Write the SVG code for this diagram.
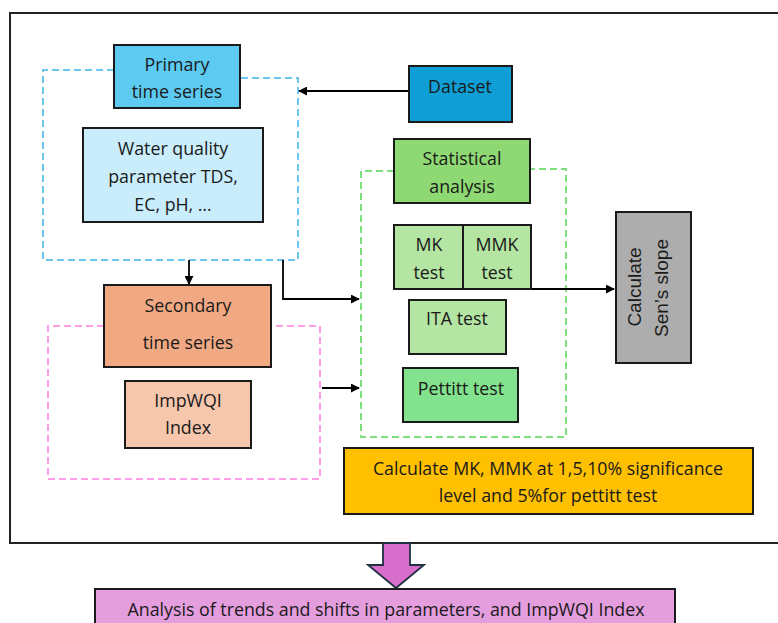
<svg xmlns="http://www.w3.org/2000/svg" width="778" height="623" viewBox="0 0 778 623">
<defs>
<style>
.box{stroke:#1a1a1a;stroke-width:2}
.t{font-family:"Open Sans","Liberation Sans",sans-serif;font-size:17.8px;fill:#1a1a1a;text-anchor:middle;dominant-baseline:central}
.ta{font-family:"Liberation Sans",Arial,sans-serif;font-size:19px;fill:#1a1a1a;text-anchor:middle;dominant-baseline:central}
.dash{fill:none;stroke-width:2;stroke-dasharray:7 4}
.conn{fill:none;stroke:#000;stroke-width:1.8;marker-end:url(#ah)}
</style>
<marker id="ah" viewBox="0 0 10 10" refX="9" refY="5" markerWidth="9" markerHeight="9" markerUnits="userSpaceOnUse" orient="auto">
<path d="M0,0 L10,5 L0,10 z" fill="#000"/>
</marker>
</defs>
<rect width="778" height="623" fill="#fff"/>
<rect id="frame" x="10" y="13" width="772" height="530" fill="none" stroke="#222" stroke-width="2"/>

<g id="groups">
<path class="dash" stroke="#6cc6ee" d="M114,70 H43 V260 H298 V78 H240"/>
<path class="dash" stroke="#7ddf7d" d="M394,171 H361 V437 H566 V169 H530"/>
<path class="dash" stroke="#ff9de8" d="M104,326 H48 V479 H320 V326 H271"/>
</g>

<g id="connectors">
<path class="conn" d="M409,91 H299"/>
<path class="conn" d="M189,260 V284"/>
<path class="conn" d="M283,260 V299 H359"/>
<path class="conn" d="M322,388 H359"/>
<path class="conn" d="M487,289 H614"/>
</g>

<g id="primary">
<rect class="box" x="114" y="45" width="126" height="63" fill="#5dcaf2"/>
<text class="t" x="177" y="64">Primary</text>
<text class="t" x="177" y="91">time series</text>
</g>
<g id="waterquality">
<rect class="box" x="83" y="128" width="180" height="94" fill="#caedfb"/>
<text class="t" x="173" y="148">Water quality</text>
<text class="t" x="173" y="176">parameter TDS,</text>
<text class="t" x="173" y="204">EC, pH, …</text>
</g>
<g id="dataset">
<rect class="box" x="409" y="66" width="103" height="56" fill="#0f9ed5"/>
<text class="t" x="460" y="86">Dataset</text>
</g>
<g id="statistical">
<rect class="box" x="394" y="139" width="136" height="64" fill="#8ed973"/>
<text class="t" x="462" y="158">Statistical</text>
<text class="t" x="462" y="186">analysis</text>
</g>
<g id="mk">
<rect class="box" x="394" y="225" width="69" height="64" fill="#b4e5a2"/>
<text class="t" x="429" y="244">MK</text>
<text class="t" x="429" y="272">test</text>
</g>
<g id="mmk">
<rect class="box" x="463" y="225" width="68" height="64" fill="#b4e5a2"/>
<text class="t" x="497" y="244">MMK</text>
<text class="t" x="497" y="272">test</text>
</g>
<g id="ita">
<rect class="box" x="409" y="300" width="97" height="54" fill="#b4e5a2"/>
<text class="t" x="457" y="318">ITA test</text>
</g>
<g id="pettitt">
<rect class="box" x="403" y="368" width="115" height="54" fill="#83e28e"/>
<text class="t" x="461" y="388">Pettitt test</text>
</g>
<g id="sens">
<rect class="box" x="616" y="212" width="75" height="151" fill="#adadad"/>
<text class="ta" transform="translate(634,287) rotate(-90)">Calculate</text>
<text class="ta" transform="translate(661,288) rotate(-90)">Sen’s slope</text>
</g>
<g id="secondary">
<rect class="box" x="104" y="285" width="167" height="82" fill="#f1a983"/>
<text class="t" x="188" y="305">Secondary</text>
<text class="t" x="188" y="342">time series</text>
</g>
<g id="impwqi">
<rect class="box" x="125" y="381" width="126" height="67" fill="#f6c6ad"/>
<text class="t" x="188" y="400">ImpWQI</text>
<text class="t" x="188" y="427">Index</text>
</g>
<g id="calc">
<rect class="box" x="344" y="448" width="409" height="66" fill="#ffc000"/>
<text class="t" x="548" y="468">Calculate MK, MMK at 1,5,10% significance</text>
<text class="t" x="548" y="495">level and 5%for pettitt test</text>
</g>
<g id="bigarrow">
<path d="M383,543 H410 V565 H424 L396,588 L368,565 H383 Z" fill="#d86ecc" stroke="#1f3040" stroke-width="1.8"/>
</g>
<g id="result">
<rect class="box" x="95" y="589" width="580" height="40" fill="#e49edd"/>
<text class="t" x="386" y="609">Analysis of trends and shifts in parameters, and ImpWQI Index</text>
</g>
</svg>
